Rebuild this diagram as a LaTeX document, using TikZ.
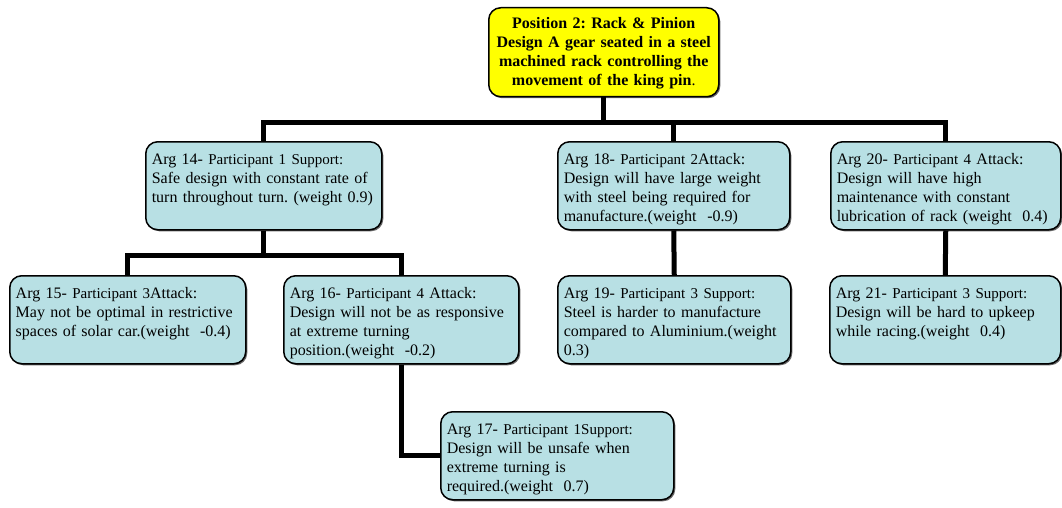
\documentclass[tikz,border=0pt]{standalone}
\usepackage{fontspec}
\setmainfont{Liberation Serif}
\usetikzlibrary{shadows}
\frenchspacing

\definecolor{argblue}{RGB}{184,224,228}
\definecolor{posyellow}{RGB}{255,255,0}

% participant part is set a little smaller
\newcommand{\ptc}[1]{{\fontsize{15pt}{19pt}\selectfont #1}}
\newcommand{\argbody}[1]{\parbox[t][70pt][t]{\linewidth}{\raggedright\strut #1}}

\begin{document}
\begin{tikzpicture}
      [x=1pt,y=-1pt,%%%%%%%%%%%%%%%%%%%%%%%%%%%%%%
      argbox/.style={rectangle,rounded corners=12pt,draw=black,line width=1.5pt,
        fill=argblue,anchor=north west,inner xsep=6pt,inner ysep=9pt,
        minimum height=88pt,font=\fontsize{16pt}{19pt}\selectfont,
        drop shadow={shadow xshift=1.5pt,shadow yshift=-1.5pt,fill=black!60,opacity=1}},
      posbox/.style={argbox,fill=posyellow,align=center,inner ysep=4pt,
        font=\fontsize{16pt}{19pt}\selectfont\bfseries},
      link/.style={draw=black,line width=5pt},
      ]%%%%%%%%%%%%%%%%%%%%%%%%%%%%%%
      \useasboundingbox (0,0) rectangle (1062,508);

      \node[posbox,text width=218pt,minimum height=89pt] (pos) at (488,7)
        {\strut Position 2: Rack \& Pinion\\Design A gear seated in a steel\\machined rack controlling the\\movement of the king pin{\mdseries .}};

      \node[argbox,text width=224pt] (a14) at (145,141)
        {\argbody{Arg 14- \ptc{Participant 1 Support:}\\Safe design with constant rate of\\turn throughout turn. (weight 0.9)}};
      \node[argbox,text width=220pt] (a18) at (557,141)
        {\argbody{Arg 18- \ptc{Participant 2}Attack:\\Design will have large weight\\with steel being required for\\manufacture.(weight~~-0.9)}};
      \node[argbox,text width=218pt] (a20) at (830,141)
        {\argbody{Arg 20- \ptc{Participant 4} Attack:\\Design will have high\\maintenance with constant\\lubrication of rack (weight~~0.4)}};

      \node[argbox,text width=224pt] (a15) at (9,275)
        {\argbody{Arg 15- \ptc{Participant 3}Attack:\\May not be optimal in restrictive\\spaces of solar car.(weight~~-0.4)}};
      \node[argbox,text width=223pt] (a16) at (283,275)
        {\argbody{Arg 16- \ptc{Participant 4} Attack:\\Design will not be as responsive\\at extreme turning\\position.(weight~~-0.2)}};
      \node[argbox,text width=221pt] (a19) at (557,275)
        {\argbody{Arg 19- \ptc{Participant 3 Support:}\\Steel is harder to manufacture\\compared to Aluminium.(weight\\0.3)}};
      \node[argbox,text width=219pt] (a21) at (829,275)
        {\argbody{Arg 21- \ptc{Participant 3 Support:}\\Design will be hard to upkeep\\while racing.(weight~~0.4)}};

      \node[argbox,text width=221pt] (a17) at (440,411)
        {\argbody{Arg 17- \ptc{Participant 1Support:}\\Design will be unsafe when\\extreme turning is\\required.(weight~~0.7)}};

      % connectors
      \coordinate (topbus) at (0,123);
      \coordinate (lowbus) at (0,255);
      \foreach \n in {a14,a18,a20}
        \draw[link] (pos.south) -- (pos.south |- topbus) -| (\n.north);
      \foreach \n in {a15,a16}
        \draw[link] (a14.south) -- (a14.south |- lowbus) -| (\n.north);
      \draw[link] (a18.south) -- (a19.north);
      \draw[link] (a20.south) -- (a21.north);
      \draw[link] (a16.south) |- (a17.west);
    \end{tikzpicture}
\end{document}
